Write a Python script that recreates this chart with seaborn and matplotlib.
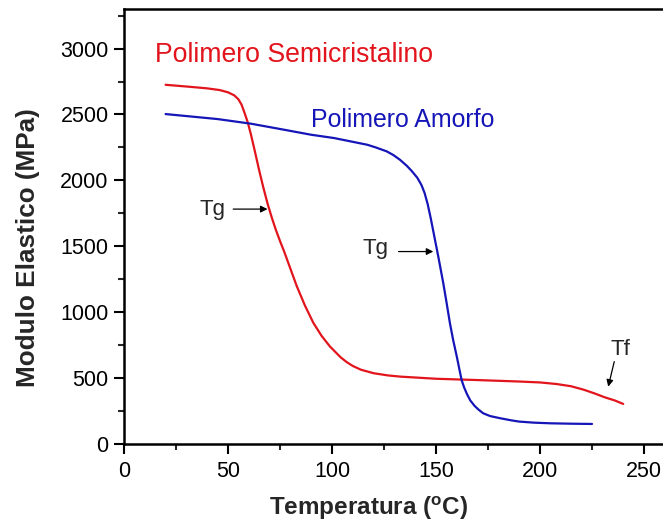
import numpy as np
import pandas as pd
import matplotlib
matplotlib.use("Agg")
import matplotlib.pyplot as plt
from matplotlib.ticker import MultipleLocator
import seaborn as sns

# --- data ---
semi_temp = [20, 30, 40, 46, 50, 53, 55, 56.5, 58, 59.5, 61, 63, 65, 67, 69, 71, 73,
             75, 77, 80, 83, 87, 91, 95, 99, 104, 107, 110, 114, 120, 127, 133, 150, 170,
             190, 200, 208, 215, 221, 226, 231, 236, 240]
semi_mod = [2725, 2712, 2698, 2685, 2668, 2645, 2615, 2575, 2510, 2440, 2350, 2215,
            2075, 1945, 1825, 1720, 1625, 1540, 1460, 1330, 1200, 1050, 920, 820, 740,
            660, 622, 592, 563, 537, 520, 511, 495, 485, 474, 467, 455, 438, 412, 385,
            355, 330, 304]

amorf_temp = [20, 45, 61, 77, 90, 101, 117, 121, 126.3, 129.5, 132.7, 136, 138.5, 141,
              143, 144.5, 146, 147.5, 149, 151.1, 153.5, 155, 156.7, 158.3, 160, 161.2,
              162.3, 163.5, 165, 166.5, 168.5, 170.5, 172.7, 176, 181, 186, 190, 197,
              205, 215, 225]
amorf_mod = [2503, 2465, 2430, 2384, 2346, 2321, 2270, 2250, 2220, 2192, 2156, 2110,
             2068, 2020, 1965, 1905, 1820, 1710, 1590, 1422, 1220, 1080, 916, 785, 663,
             570, 486, 430, 375, 330, 290, 260, 233, 212, 195, 180, 170, 162, 157, 154,
             152]

x_ticks = [0, 50, 100, 150, 200, 250]
y_ticks = [0, 500, 1000, 1500, 2000, 2500, 3000]

RED = "#e2141c"
BLUE = "#1515b8"

sns.set_theme(style="ticks")
plt.rcParams["font.family"] = ["Liberation Sans", "DejaVu Sans"]

fig = plt.figure(figsize=(6.63, 5.24), dpi=100)
W, H = 663, 524
x0_px, y0_px = 124, 444
x_end_px = 124 + 2.08 * 260
top_px = 9
ax = fig.add_axes([x0_px / W, (H - y0_px) / H, (x_end_px - x0_px) / W, (y0_px - top_px) / H])

df_semi = pd.DataFrame({"T": semi_temp, "E": semi_mod})
df_amor = pd.DataFrame({"T": amorf_temp, "E": amorf_mod})
sns.lineplot(data=df_semi, x="T", y="E", ax=ax, color=RED, lw=1.6, sort=False)
sns.lineplot(data=df_amor, x="T", y="E", ax=ax, color=BLUE, lw=1.6, sort=False)

ax.set_xlim(0, 260)
ax.set_ylim(0, 3300)
ax.set_xticks(x_ticks)
ax.set_yticks(y_ticks)
ax.xaxis.set_minor_locator(MultipleLocator(25))
ax.yaxis.set_minor_locator(MultipleLocator(250))
ax.tick_params(which="major", direction="out", length=7, width=1.5, labelsize=15.5,
               colors="black")
ax.tick_params(axis="x", which="major", pad=5)
ax.tick_params(axis="y", which="major", pad=4)
ax.tick_params(which="minor", direction="out", length=4.5, width=1.5)
for s in ax.spines.values():
    s.set_linewidth(1.8)
    s.set_color("black")

ax.set_xlabel("Temperatura ($\\mathregular{^o}$C)", fontsize=17.5, fontweight="bold")
ax.set_ylabel("Modulo Elastico (MPa)", fontsize=18.8, fontweight="bold")
ax.xaxis.set_label_coords((369 - x0_px) / (x_end_px - x0_px), -(508 - y0_px) / (y0_px - top_px))
ax.xaxis.label.set_va("center")
ax.yaxis.set_label_coords((28 - x0_px) / (x_end_px - x0_px), (y0_px - 248) / (y0_px - top_px))
ax.yaxis.label.set_va("center")

ax.text(15, 2950, "Polimero Semicristalino", color=RED, fontsize=19.2, va="center", ha="left")
ax.text(90, 2455, "Polimero Amorfo", color=BLUE, fontsize=17.9, va="center", ha="left")

arrow = dict(arrowstyle="-|>", color="black", lw=0.9, mutation_scale=10, shrinkA=0, shrinkB=0)
ax.text(42.5, 1782, "Tg", fontsize=16, ha="center", va="center")
ax.annotate("", xy=(69, 1782), xytext=(52.5, 1782), arrowprops=arrow)
ax.text(120.7, 1481, "Tg", fontsize=16, ha="center", va="center")
ax.annotate("", xy=(148.7, 1460), xytext=(132, 1460), arrowprops=arrow)
ax.text(238.5, 719, "Tf", fontsize=16, ha="center", va="center")
ax.annotate("", xy=(232.8, 435), xytext=(235.7, 625), arrowprops=arrow)

fig.savefig("out.png", dpi=100)
